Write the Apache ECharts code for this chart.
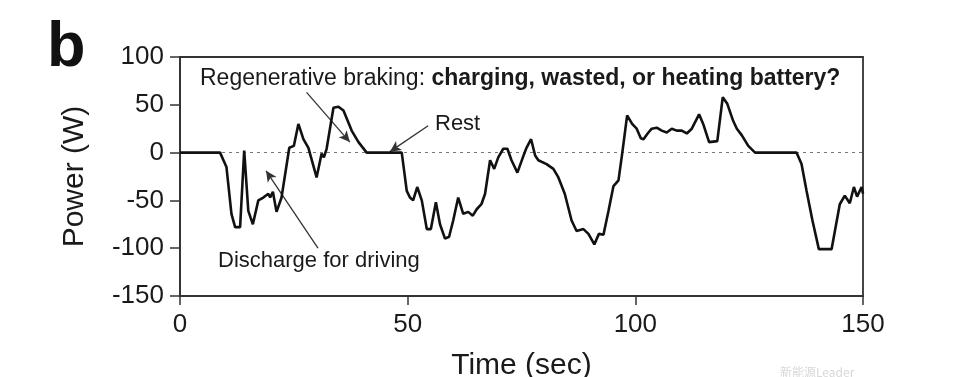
<!DOCTYPE html>
<html><head><meta charset="utf-8">
<script src="https://cdn.jsdelivr.net/npm/echarts@6/dist/echarts.min.js"></script>
<style>html,body{margin:0;padding:0;background:#fff}#c{width:972px;height:377px}</style>
</head><body><div id="c"></div><script>
const timeSec = [0, 8.8, 10.2, 11.3, 12.1, 13.2, 14.1, 15, 16, 17.2, 18.3, 19.4, 19.8, 20.4, 21.2, 22.3, 24, 25, 26, 27.1, 28.2, 30, 31.1, 31.6, 32.2, 33.7, 34.8, 35.9, 37.7, 39.2, 41, 48.7,
  49.8, 50.5, 51.2, 52.1, 53.1, 54.2, 55.1, 56.2, 57.1, 58.2, 59.1, 60, 61.1, 62.2, 63.3, 64.3, 65.2, 66.2, 67, 68.1, 69, 69.9, 71, 71.9, 72.8, 74.1, 75.3, 76.1, 77.1, 78, 78.7, 80.5, 82, 83.1, 84.5, 86, 87.1, 88.6, 89.7, 91, 92, 93, 94.1, 95.2, 96.3, 97.2, 98.2,
  99.3, 100.3, 101.2, 101.8, 102.7, 103.6, 104.7, 105.8, 106.9, 108, 109.1, 110.2, 111.3, 112.4, 114, 114.9, 116.2, 118, 119.2, 120.2, 121.5, 122.3, 123.4, 124.8, 126.3, 135.4, 136.5, 137.6, 138.9, 140.3, 143.1, 144.1, 144.9, 146, 147.1, 148, 148.7, 149.7, 150];
const powerW = [0, 0, -15, -64, -78, -78, 2, -61, -75, -50, -47, -43, -47, -41, -62, -47, 5, 7, 30, 14, 5, -26, -1, -5, 4, 47, 48, 44, 23, 11, 0, 0,
  -40, -47, -50, -36, -50, -80, -80, -52, -75, -90, -88, -71, -47, -64, -62, -66, -59, -54, -43, -8, -17, -5, 4, 4, -8, -21, -5, 5, 14, -3, -8, -12, -17, -26, -43, -71, -82, -80, -85, -96, -85, -86, -61, -35, -29, 2, 39,
  30, 25, 15, 14, 20, 25, 26, 23, 21, 25, 23, 23, 20, 25, 40, 30, 11, 12, 58, 51, 33, 25, 18, 7, 0, 0, -12, -40, -71, -101, -101, -75, -54, -45, -53, -36, -46, -36, -43];
const xTicks = [0, 50, 100, 150];
const yTicks = [-150, -100, -50, 0, 50, 100];

const seriesData = timeSec.map((t, i) => [t, powerW[i]]);
const ink = '#1a1a1a';
const font = '"Liberation Sans", Arial, Helvetica, sans-serif';

const chart = echarts.init(document.getElementById('c'), null, {renderer: 'canvas'});
chart.setOption({
  animation: false,
  backgroundColor: '#fff',
  grid: {left: 180, right: 109, top: 57, bottom: 81, containLabel: false, outerBoundsMode: 'none',
    show: true, borderColor: '#333', borderWidth: 1.8, backgroundColor: 'transparent'},
  xAxis: {
    type: 'value', min: xTicks[0], max: xTicks[xTicks.length - 1], interval: 50,
    name: 'Time (sec)', nameLocation: 'middle', nameGap: 55,
    nameTextStyle: {fontSize: 30, color: ink, fontFamily: font},
    axisLine: {show: true, onZero: false, lineStyle: {color: '#333', width: 1.8}},
    axisTick: {show: true, inside: false, length: 9, lineStyle: {color: '#333', width: 1.5}},
    axisLabel: {fontSize: 26, color: ink, fontFamily: font, margin: 16},
    splitLine: {show: false}
  },
  yAxis: {
    type: 'value', min: yTicks[0], max: yTicks[yTicks.length - 1], interval: 50,
    name: 'Power (W)', nameLocation: 'middle', nameGap: 90, nameRotate: 90,
    nameTextStyle: {fontSize: 30, color: ink, fontFamily: font},
    axisLine: {show: true, onZero: false, lineStyle: {color: '#333', width: 1.8}},
    axisTick: {show: true, inside: false, length: 10, lineStyle: {color: '#333', width: 1.5}},
    axisLabel: {fontSize: 26, color: ink, fontFamily: font, margin: 16},
    splitLine: {show: false}
  },
  series: [{
    type: 'line', data: seriesData, showSymbol: false, symbol: 'none',
    lineStyle: {color: '#111', width: 2.6}, z: 5,
    markLine: {
      silent: true, symbol: ['none', 'none'], label: {show: false},
      data: [
        {yAxis: 0, lineStyle: {type: [3, 4], color: '#777', width: 1.2}},
        [{coord: [27.8, 63], symbol: 'none'}, {coord: [37.3, 11], symbol: 'arrow', symbolSize: [8, 11], lineStyle: {type: 'solid', color: '#333', width: 1.3}}],
        [{coord: [54.5, 28], symbol: 'none'}, {coord: [46.1, 1], symbol: 'arrow', symbolSize: [8, 11], lineStyle: {type: 'solid', color: '#333', width: 1.3}}],
        [{coord: [30.3, -100], symbol: 'none'}, {coord: [18.9, -19], symbol: 'arrow', symbolSize: [8, 11], lineStyle: {type: 'solid', color: '#333', width: 1.3}}]
      ]
    }
  }],
  graphic: [
    {type: 'text', left: 47, top: 17, style: {text: 'b', font: 'bold 63px ' + font, fill: '#111'}},
    {type: 'text', x: 200, y: 79, style: {
      text: '{a|Regenerative braking: }{b|charging, wasted, or heating battery?}',
      verticalAlign: 'middle',
      rich: {
        a: {fontSize: 23, fontFamily: font, fill: ink, color: ink},
        b: {fontSize: 23, fontFamily: font, fontWeight: 'bold', fill: ink, color: ink}
      }
    }},
    {type: 'text', x: 435, y: 124, style: {text: 'Rest', font: '22px ' + font, fill: ink, verticalAlign: 'middle'}},
    {type: 'text', x: 218, y: 261, style: {text: 'Discharge for driving', font: '22px ' + font, fill: ink, verticalAlign: 'middle'}},
    {type: 'text', x: 780, y: 372, style: {text: '新能源Leader', font: '12px "Noto Sans CJK SC", sans-serif', fill: '#d8d8d8', verticalAlign: 'middle'}}
  ]
});
</script></body></html>
